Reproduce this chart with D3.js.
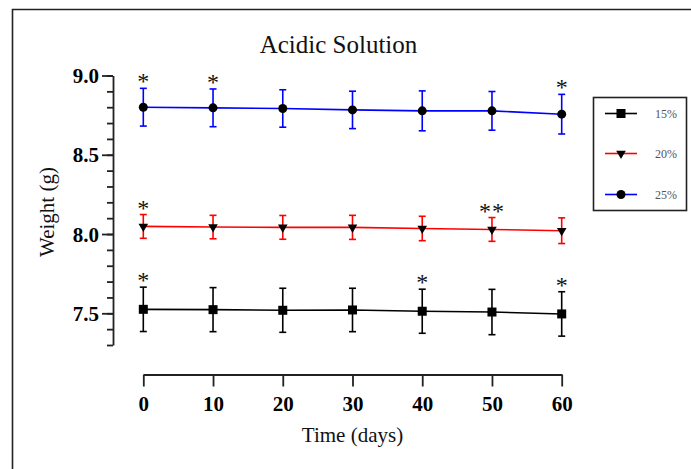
<!DOCTYPE html>
<html><head><meta charset="utf-8">
<script src="https://cdn.jsdelivr.net/npm/d3@7"></script>
<style>html,body{margin:0;padding:0;background:#fff;}svg{display:block;}</style>
</head><body>
<script>
const days = [0, 10, 20, 30, 40, 50, 60];
const xTicks = [0, 10, 20, 30, 40, 50, 60];
const yTicks = [7.5, 8.0, 8.5, 9.0];
const seriesNames = ["15%", "20%", "25%"];
const seriesColors = ["#000000", "#ff0000", "#0000ff"];
const seriesShapes = ["square", "triangle", "circle"];
const mean15 = [7.525, 7.523, 7.519, 7.521, 7.513, 7.508, 7.496];
const err15  = [0.140, 0.139, 0.139, 0.137, 0.139, 0.143, 0.140];
const mean20 = [8.048, 8.044, 8.042, 8.042, 8.035, 8.029, 8.021];
const err20  = [0.075, 0.074, 0.075, 0.076, 0.077, 0.075, 0.081];
const mean25 = [8.800, 8.796, 8.792, 8.783, 8.777, 8.777, 8.756];
const err25  = [0.119, 0.119, 0.118, 0.118, 0.126, 0.122, 0.125];
const stars15 = ["*", "", "", "", "*", "", "*"];
const stars20 = ["*", "", "", "", "", "**", ""];
const stars25 = ["*", "*", "", "", "", "", "*"];

const W = 691, H = 469;
const serif = "'Liberation Serif','Times New Roman',serif";
const svg = d3.select("body").append("svg").attr("width", W).attr("height", H);
svg.append("rect").attr("width", W).attr("height", H).attr("fill", "#fff");
// frame
svg.append("path").attr("d", "M12.5,480 V9.5 H700").attr("fill", "none").attr("stroke", "#222").attr("stroke-width", 1.6);

const x = d3.scaleLinear().domain([0, 60]).range([143.3, 561.7]);
const y = d3.scaleLinear().domain([7.3, 9.0]).range([345, 75.5]);

// Y axis
const yAxisG = svg.append("g").attr("transform", "translate(113,0)");
yAxisG.call(d3.axisLeft(y).tickValues(d3.range(7.3, 9.0001, 0.1)).tickFormat("").tickSize(6).tickSizeOuter(0));
yAxisG.call(g => g.select(".domain").remove());
const yMaj = svg.append("g").attr("transform", "translate(113,0)")
  .call(d3.axisLeft(y).tickValues(yTicks).tickFormat(d3.format(".1f")).tickSize(11).tickPadding(3).tickSizeOuter(0));
yMaj.selectAll("text").attr("font-family", serif).attr("font-weight", "bold").attr("font-size", 21).attr("fill", "#000").attr("dy", "0.34em");
svg.selectAll(".tick line").attr("stroke", "#222").attr("stroke-width", 1.8);
yMaj.select(".domain").attr("stroke", "#222").attr("stroke-width", 1.8);

// X axis
const xAxisG = svg.append("g").attr("transform", "translate(0,374.5)")
  .call(d3.axisBottom(x).tickValues(xTicks).tickSize(12).tickSizeOuter(0).tickPadding(10));
xAxisG.select(".domain").attr("stroke", "#222").attr("stroke-width", 1.8);
xAxisG.selectAll(".tick line").attr("stroke", "#222").attr("stroke-width", 1.8);
xAxisG.selectAll("text").attr("font-family", serif).attr("font-weight", "bold").attr("font-size", 21).attr("fill", "#000");

// Titles
svg.append("text").attr("x", 338.5).attr("y", 53).attr("text-anchor", "middle")
  .attr("font-family", serif).attr("font-size", 25).attr("fill", "#111").text("Acidic Solution");
svg.append("text").attr("x", 352.5).attr("y", 442).attr("text-anchor", "middle")
  .attr("font-family", serif).attr("font-size", 21).attr("fill", "#111").text("Time (days)");
svg.append("text").attr("transform", "translate(54,212) rotate(-90)").attr("text-anchor", "middle")
  .attr("font-family", serif).attr("font-size", 21).attr("fill", "#111").text("Weight (g)");

const series = [
  {mean: mean15, err: err15, stars: stars15},
  {mean: mean20, err: err20, stars: stars20},
  {mean: mean25, err: err25, stars: stars25}
];

function marker(g, shape, cx, cy) {
  if (shape === "square") {
    g.append("rect").attr("x", cx - 4.5).attr("y", cy - 4.5).attr("width", 9).attr("height", 9).attr("fill", "#000");
  } else if (shape === "triangle") {
    g.append("path").attr("d", d3.symbol().type(d3.symbolTriangle).size(40)()).attr("transform", `translate(${cx},${cy}) rotate(180)`).attr("fill", "#000");
  } else {
    g.append("circle").attr("cx", cx).attr("cy", cy).attr("r", 4.5).attr("fill", "#000");
  }
}

series.forEach((s, si) => {
  const col = seriesColors[si];
  const g = svg.append("g");
  const pts = days.map((d, i) => ({d, m: s.mean[i], e: s.err[i], st: s.stars[i]}));
  g.append("path").datum(pts).attr("fill", "none").attr("stroke", col).attr("stroke-width", 1.6)
    .attr("d", d3.line().x(p => x(p.d)).y(p => y(p.m)));
  pts.forEach(p => {
    const cx = x(p.d);
    g.append("line").attr("x1", cx).attr("x2", cx).attr("y1", y(p.m + p.e)).attr("y2", y(p.m - p.e)).attr("stroke", col).attr("stroke-width", 1.6);
    [p.m + p.e, p.m - p.e].forEach(v => {
      g.append("line").attr("x1", cx - 3.5).attr("x2", cx + 3.5).attr("y1", y(v)).attr("y2", y(v)).attr("stroke", col).attr("stroke-width", 1.6);
    });
  });
  pts.forEach(p => marker(g, seriesShapes[si], x(p.d), y(p.m)));
  pts.filter(p => p.st).forEach(p => {
    g.append("text").attr("x", x(p.d)).attr("y", y(p.m + p.e) + 1).attr("text-anchor", "middle")
      .attr("font-family", serif).attr("font-size", 24).attr("fill", "#111")
      .attr("letter-spacing", p.st.length > 1 ? 1 : 0)
      .text(p.st);
  });
});

// Legend
svg.append("rect").attr("x", 593.5).attr("y", 97.5).attr("width", 93).attr("height", 113)
  .attr("fill", "none").attr("stroke", "#222").attr("stroke-width", 1.6);
const legY = [113.5, 153.5, 194.5];
seriesNames.forEach((n, i) => {
  const g = svg.append("g");
  g.append("line").attr("x1", 605).attr("x2", 637).attr("y1", legY[i]).attr("y2", legY[i]).attr("stroke", seriesColors[i]).attr("stroke-width", 1.6);
  marker(g, seriesShapes[i], 621, legY[i]);
  g.append("text").attr("x", 655).attr("y", legY[i]).attr("dy", "0.35em").attr("font-family", serif)
    .attr("font-size", 12).attr("fill", "#555").text(n);
});
</script>
</body></html>
